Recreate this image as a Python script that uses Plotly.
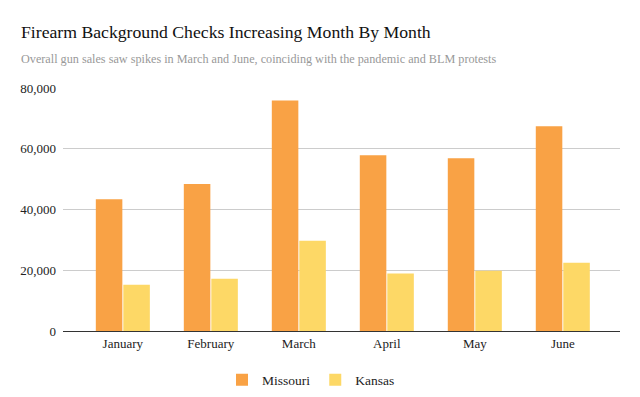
import plotly.graph_objects as go

months = ["January", "February", "March", "April", "May", "June"]
missouri = [43400, 48400, 75900, 57900, 56900, 67400]
kansas = [15200, 17200, 29700, 18900, 19800, 22500]
y_ticks = [0, 20000, 40000, 60000, 80000]
y_tick_labels = ["0", "20,000", "40,000", "60,000", "80,000"]

FONT = "Liberation Serif"

# page body has an 8px margin; compensate so the figure lands at window coords
OFF = 8
W, H = 640 - OFF, 397 - OFF
PLOT_L, PLOT_R, PLOT_T, PLOT_B = 63 - OFF, 20, 88 - OFF, 66
PW = W - PLOT_L - PLOT_R
PH = H - PLOT_T - PLOT_B

fig = go.Figure()
fig.add_trace(go.Bar(x=months, y=missouri, name="Missouri", marker_color="#f9a245",
                     marker_line_width=0))
fig.add_trace(go.Bar(x=months, y=kansas, name="Kansas", marker_color="#fdd866",
                     marker_line_width=0))

fig.update_layout(
    width=W, height=H,
    paper_bgcolor="white", plot_bgcolor="white",
    font=dict(family=FONT, color="#222222", size=12),
    barmode="group", bargap=0.375, bargroupgap=0.035,
    margin=dict(l=PLOT_L, r=PLOT_R, t=PLOT_T, b=PLOT_B, autoexpand=False),
    showlegend=True,
    legend=dict(orientation="h", x=(311 - OFF) / W, xref="container", xanchor="center",
                y=(397 - 380) / H, yref="container", yanchor="middle",
                font=dict(size=13.5, family=FONT, color="#222222"), traceorder="normal",
                itemwidth=30),
    xaxis=dict(range=[-0.68, 5.65], showgrid=False, showline=True, linecolor="#333333",
               linewidth=1, ticks="", tickfont=dict(size=13, family=FONT, color="#222222"),
               automargin=False),
    yaxis=dict(range=[0, 80000], tickvals=y_ticks, ticktext=y_tick_labels,
               showgrid=True, gridcolor="#cccccc", gridwidth=1, zeroline=False,
               ticks="", ticklabelstandoff=6, automargin=False,
               tickfont=dict(size=13, family=FONT, color="#222222")),
    annotations=[
        dict(text="Firearm Background Checks Increasing Month By Month", xref="paper", yref="paper",
             x=(19 - 63) / PW, y=(331 - 32) / PH, xanchor="left", yanchor="middle",
             showarrow=False, font=dict(size=17.7, family=FONT, color="#111111")),
        dict(text="Overall gun sales saw spikes in March and June, coinciding with the pandemic and BLM protests",
             xref="paper", yref="paper",
             x=(19 - 63) / PW, y=(331 - 59) / PH, xanchor="left", yanchor="middle",
             showarrow=False, font=dict(size=12.2, family=FONT, color="#999999")),
    ],
)
fig.write_html("out.html")
